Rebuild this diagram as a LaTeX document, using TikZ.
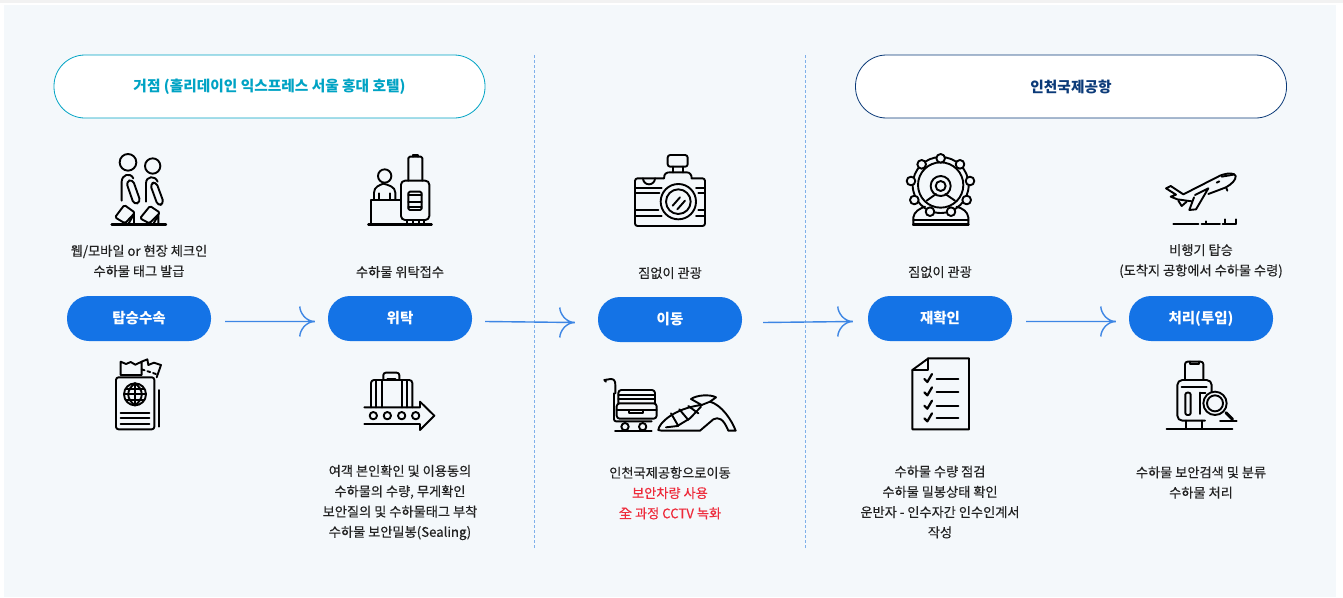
\documentclass[tikz,border=0pt]{standalone}
\usepackage{fontspec}
\setmainfont{Noto Sans CJK KR}
\newfontfamily\medfont[FakeBold=0.35]{Noto Sans CJK KR}
\usetikzlibrary{calc}
\definecolor{pagebg}{HTML}{F4F8FB}
\definecolor{pillblue}{HTML}{1473E6}
\definecolor{flowblue}{HTML}{3D86E4}
\definecolor{teal1}{HTML}{00A3C4}
\definecolor{navy1}{HTML}{0B3A78}
\definecolor{dashblue}{HTML}{7FB0EA}
\definecolor{alertred}{HTML}{EE2B3B}
\definecolor{ink}{HTML}{222222}
\newcommand{\flowarrow}[5]{%
  \draw[flowline] ([shift={(#3,#5)}]#1.east) -- ([shift={(#4,#5)}]#2.west) coordinate (tip)
    .. controls +(-9,0) and +(0,6) .. +(-15,-15);
  \draw[flowline] (tip) .. controls +(-9,0) and +(0,-6) .. +(-15,15);
}
\tikzset{
  pill/.style={fill=pillblue,rounded corners=22pt,minimum width=144pt,minimum height=45pt,inner sep=0pt,text=white,font=\fontsize{14.5}{16}\selectfont\bfseries},
  header/.style={fill=white,draw,line width=0.8pt,rounded corners=31pt,minimum width=431pt,minimum height=63pt,inner sep=0pt,font=\fontsize{14.7}{16}\selectfont\bfseries},
  note/.style={align=center,text=ink,inner sep=0pt,font=\medfont\fontsize{13.2}{20.3}\selectfont},
  flowline/.style={draw=flowblue,line width=1.4pt},
  divider/.style={draw=dashblue,line width=0.7pt,dash pattern=on 3pt off 2pt},
  zoomed/.style={x=0.33333pt,y=-0.33333pt,line width=1.9pt,black,line join=round,line cap=round},
}
\begin{document}
\begin{tikzpicture}[x=1pt,y=-1pt]
\useasboundingbox (0,0) rectangle (1343,597);
\fill[white] (0,0) rectangle (1343,597);
\fill[black!5] (0,0) rectangle (1343,2.5);
\fill[pagebg] (4,5) rectangle (1336,597);
% dividers
\coordinate (d1a) at (534.5,55); \coordinate (d1b) at (534.5,549);
\coordinate (d2a) at (805.5,55); \coordinate (d2b) at (805.5,549);
\draw[divider] (d1a) -- (d1b);
\draw[divider] (d2a) -- (d2b);
% headers
\node[header,draw=teal1,text=teal1] (h1) at (269.5,86.5) {거점 (홀리데이인 익스프레스 서울 홍대 호텔)};
\node[header,draw=navy1,text=navy1] (h2) at (1071,86.5) {인천국제공항};
% pills
\node[pill] (p1) at (139,318.5) {탑승수속};
\node[pill] (p2) at (400,318.5) {위탁};
\node[pill] (p3) at (670,319.5) {이동};
\node[pill] (p4) at (940,318.5) {재확인};
\node[pill] (p5) at (1201,318.5) {처리(투입)};
\flowarrow{p1}{p2}{14}{-13}{3}
\flowarrow{p2}{p3}{13}{-23}{3}
\flowarrow{p3}{p4}{21}{-15}{3}
\flowarrow{p4}{p5}{14}{-13}{3}
% upper notes
\node[note] (t1) at (139,261) {웹/모바일 or 현장 체크인\\수하물 태그 발급};
\node[note] (t2) at (400,272) {수하물 위탁접수};
\node[note] (t3) at (670,273) {짐없이 관광};
\node[note] (t4) at (940,272) {짐없이 관광};
\node[note] (t5) at (1201,261) {비행기 탑승\\(도착지 공항에서 수하물 수령)};
% lower notes
\node[note] (b2) at (400,502.5) {여객 본인확인 및 이용동의\\수하물의 수량, 무게확인\\보안질의 및 수하물태그 부착\\수하물 보안밀봉(Sealing)};
\node[note] (b3) at (670,493) {인천국제공항으로이동\\\textcolor{alertred}{보안차량 사용}\\\textcolor{alertred}{全 과정 CCTV 녹화}};
\node[note] (b4) at (940,502) {수하물 수량 점검\\수하물 밀봉상태 확인\\운반자 - 인수자간 인수인계서\\작성};
\node[note] (b5) at (1201,482.5) {수하물 보안검색 및 분류\\수하물 처리};
% icon 1: walkers
\begin{scope}[shift={(90,140)},zoomed]
\draw (114,67) circle (25);
\draw (188,78) circle (23);
\draw[line width=2.4pt] (65,254) -- (228,254);
\draw (95,182) -- (95,125) .. controls (95,105) and (120,95) .. (130,115);
\draw[rounded corners=4pt] (108,125) -- (128,118) -- (152,186) -- (132,194) -- cycle;
\draw[rounded corners=1.5pt] (75,232) -- (103,195) -- (135,218) -- (105,250) -- cycle;
\draw (115,252) -- (132,222) -- (132,252);
\draw (168,185) -- (168,130) .. controls (168,108) and (195,105) .. (203,125);
\draw[rounded corners=4pt] (180,132) -- (198,125) -- (222,190) -- (204,198) -- cycle;
\draw[rounded corners=1.5pt] (150,235) -- (180,198) -- (210,218) -- (178,250) -- cycle;
\draw (190,252) -- (205,225) -- (205,252);
\end{scope}
% icon 2: check-in
\begin{scope}[shift={(90,140)},zoomed]
\draw (884,108) circle (20);
\draw (852,180) -- (852,158) .. controls (852,140) and (870,135) .. (880,131) .. controls (895,135) and (916,140) .. (916,158) -- (916,180);
\draw (868,180) -- (868,160) (900,180) -- (900,160);
\draw (843,254) -- (843,180) -- (932,180);
\draw[rounded corners=4pt] (933,122) rectangle (1018,240);
\draw[rounded corners=1.5pt] (955,122) -- (955,50) -- (997,50) -- (997,122);
\draw (968,50) -- (968,45) -- (984,45) -- (984,50);
\draw[rounded corners=1.5pt] (955,155) rectangle (995,210);
\draw (955,165) -- (995,165) (955,185) -- (995,185) (955,200) -- (995,200);
\draw (952,240) -- (952,252) (970,240) -- (970,252) (988,240) -- (988,252) (1003,240) -- (1003,252);
\draw[line width=2.4pt] (835,254) -- (1025,254);
\end{scope}
% icon 3: passport
\begin{scope}[shift={(90,350)},zoomed]
\draw (92,75) -- (92,35) -- (108,42) -- (122,36) -- (136,44) -- (155,35) -- (155,75) -- cycle;
\draw (155,35) -- (172,28) -- (175,45) -- (192,38) -- (213,45) -- (200,82);
\draw[dashed] (155,58) -- (198,72);
\draw[rounded corners=2.5pt] (78,82) rectangle (193,238);
\draw (135,133) circle (33);
\draw (135,100) .. controls (108,120) and (108,146) .. (135,166);
\draw (135,100) .. controls (162,120) and (162,146) .. (135,166);
\draw (135,100) -- (135,166) (102,133) -- (168,133) (107,116) -- (163,116) (107,150) -- (163,150);
\draw (92,188) -- (178,188) (92,205) -- (178,205) (92,222) -- (178,222);
\draw (207,120) -- (207,230);
\end{scope}
% icon 4: conveyor
\begin{scope}[shift={(90,350)},zoomed]
\draw (823,172) -- (990,172) -- (990,155) -- (1033,197) -- (990,240) -- (990,222) -- (823,222);
\foreach \cx in {850,892,935,977} \draw (\cx,197) circle (11);
\draw[rounded corners=3pt] (843,172) -- (843,90) -- (967,90) -- (967,172);
\draw (858,90) -- (858,172) (875,90) -- (875,172) (935,90) -- (935,172) (950,90) -- (950,172);
\draw[rounded corners=2.5pt] (880,90) -- (880,68) -- (928,68) -- (928,90);
\draw (892,88) -- (916,88);
\end{scope}
% icon 5: camera
\begin{scope}[shift={(590,140)},zoomed]
\draw[rounded corners=2.5pt] (222,115) -- (135,115) -- (135,258) -- (345,258) -- (345,115) -- (305,115);
\draw (222,115) .. controls (222,100) and (230,97) .. (240,97) -- (290,97) .. controls (300,97) and (305,105) .. (305,115);
\draw (159,115) arc[start angle=180,end angle=0,radius=18];
\draw[rounded corners=2.5pt] (233,45) rectangle (293,80);
\draw (248,80) -- (248,97) (278,80) -- (278,97);
\draw (265,185) circle (53);
\draw (265,185) circle (37);
\draw (248,197) -- (270,172) (262,208) -- (285,182);
\draw (135,143) -- (215,143) (135,160) -- (208,160) (135,210) -- (205,210) (135,228) -- (215,228);
\draw (318,143) -- (345,143) (325,160) -- (345,160) (325,210) -- (345,210) (318,228) -- (345,228);
\end{scope}
% icon 6: wheel
\begin{scope}[shift={(590,140)},zoomed]
\draw (1052,135) circle (84);
\draw (1052,135) circle (68);
\draw (970,255) -- (970,232) .. controls (972,215) and (990,205) .. (1005,200);
\draw (1100,200) .. controls (1118,205) and (1133,215) .. (1135,232) -- (1135,255) -- (970,255);
\draw (970,240) -- (1135,240);
\draw[line width=2.4pt] (970,254) -- (1135,254);
\foreach \bx/\by in {1052/55,1110/73,1140/123,1130/180,1083/215,1020/215,973/180,963/123,995/73}
  \draw[fill=pagebg] (\bx,\by) circle (13);
\draw (1052,138) circle (30);
\draw (1052,138) circle (15);
\draw (1010,182) -- (1038,162) (1095,182) -- (1066,162);
\end{scope}
% icon 7: cart and terminal
\begin{scope}[shift={(590,350)},zoomed]
\draw (48,95) -- (43,90) -- (62,87) .. controls (72,87) and (76,92) .. (76,105) -- (76,130);
\draw[rounded corners=2pt] (72,130) -- (72,214) -- (185,214);
\draw[rounded corners=3pt] (85,160) -- (85,120) -- (195,120) -- (195,160);
\draw (85,135) -- (195,135) (85,148) -- (195,148);
\draw[rounded corners=3pt] (80,160) rectangle (200,206);
\draw (80,180) -- (200,180);
\draw (118,180) -- (118,188) -- (158,188) -- (158,180);
\draw (105,230) circle (11) (158,230) circle (11);
\draw (75,242) -- (185,242);
\draw (205,240) .. controls (205,222) and (250,175) .. (335,165) -- (303,147) .. controls (320,135) and (360,132) .. (378,142) -- (360,155)
   .. controls (395,165) and (425,210) .. (437,242) -- (415,242)
   .. controls (400,205) and (385,200) .. (370,208) -- (330,242) -- (215,242) -- cycle;
\draw (243,190) -- (265,228) (268,178) -- (295,210) (295,168) -- (325,190);
\draw (228,232) -- (262,228) -- (300,205) -- (333,170);
\draw (335,165) -- (360,155);
\end{scope}
% icon 8: checklist
\begin{scope}[shift={(590,350)},zoomed]
\draw (967,60) -- (1015,25) -- (1137,25) -- (1137,238) -- (967,238) -- cycle;
\draw (1015,25) -- (1015,60) -- (967,60);
\foreach \ly in {87,127,167,205} {
  \draw[line width=2.2pt] (1003,\ly) -- (1012,\ly+9) -- (1026,\ly-15);
  \draw (1040,\ly) -- (1105,\ly);
}
\end{scope}
% icon 9: plane
\begin{scope}[shift={(1140,160)},zoomed]
\draw (130,103) -- (92,78) -- (78,85) -- (108,104) -- (92,110) -- (112,118) -- (155,124);
\draw (130,103) -- (240,47) .. controls (262,38) and (285,38) .. (287,48) .. controls (288,60) and (275,72) .. (258,82) -- (205,102);
\draw (165,105) -- (205,85) -- (168,148) -- (148,150) -- (162,112);
\draw (115,122) -- (125,138) -- (140,125);
\draw (258,82) -- (262,92);
\draw (245,50) -- (280,44);
\draw (230,68) -- (238,64);
\draw (100,192) -- (175,192) (185,192) -- (240,192) (248,192) -- (287,192);
\draw (255,178) -- (255,192) (287,178) -- (287,192) (197,184) -- (197,192);
\end{scope}
% icon 10: bag search
\begin{scope}[shift={(1140,350)},zoomed]
\draw[rounded corners=5pt] (195,212) -- (112,212) -- (112,90) -- (215,90) -- (215,125);
\draw[rounded corners=2.5pt] (135,90) -- (135,35) -- (190,35) -- (190,90);
\draw (150,35) -- (150,42) -- (178,42) -- (178,35);
\draw (125,110) -- (200,110);
\draw[rounded corners=2pt] (136,128) rectangle (152,195);
\draw (180,128) -- (196,128) (180,128) -- (180,192);
\draw[fill=pagebg] (225,160) circle (35);
\draw (225,160) circle (24);
\draw[line width=3pt] (258,188) -- (278,208);
\draw (240,212) -- (290,212);
\draw (138,212) -- (138,235) (185,212) -- (185,235);
\draw (80,238) -- (277,238);
\end{scope}
\end{tikzpicture}
\end{document}
